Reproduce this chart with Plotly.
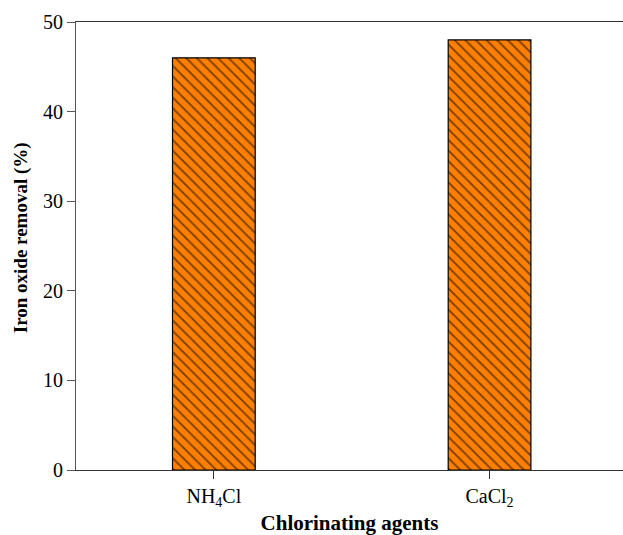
import plotly.graph_objects as go

# Iron oxide removal by chlorinating agent
agents = ["NH<sub>4</sub>Cl", "CaCl<sub>2</sub>"]
removal = [46.0, 48.0]
y_ticks = [0, 10, 20, 30, 40, 50]

fig = go.Figure(
    go.Bar(
        x=agents,
        y=removal,
        width=0.30,
        marker=dict(
            color="#FF8000",
            line=dict(color="black", width=1.2),
            pattern=dict(shape="\\", fgcolor="black", bgcolor="#FF8000",
                         size=7.5, solidity=0.25),
        ),
    )
)

font_family = "Liberation Serif, Times New Roman, serif"

fig.update_layout(
    width=623,
    height=535,
    margin=dict(l=76, r=0, t=22, b=65),
    plot_bgcolor="white",
    paper_bgcolor="white",
    showlegend=False,
    font=dict(family=font_family, color="black", size=19),
    xaxis=dict(
        range=[-0.5, 1.484],
        showline=True,
        linecolor="#333333",
        linewidth=1,
        mirror=True,
        ticks="outside",
        ticklen=8,
        tickcolor="#333333",
        tickfont=dict(size=20),
        title=dict(text="<b>Chlorinating agents</b>", font=dict(size=21), standoff=6),
    ),
    yaxis=dict(
        range=[0, 50],
        tickvals=y_ticks,
        showline=True,
        linecolor="#555555",
        linewidth=1,
        ticks="outside",
        ticklen=8,
        tickcolor="#555555",
        showgrid=False,
        zeroline=False,
        tickfont=dict(size=20),
    ),
    annotations=[
        dict(
            text="<b>Iron oxide removal (%)</b>",
            xref="paper", yref="paper",
            x=-0.1, y=0.518,
            xanchor="center", yanchor="middle",
            textangle=-90,
            showarrow=False,
            font=dict(size=19),
        )
    ],
)

fig.write_html("out.html")
